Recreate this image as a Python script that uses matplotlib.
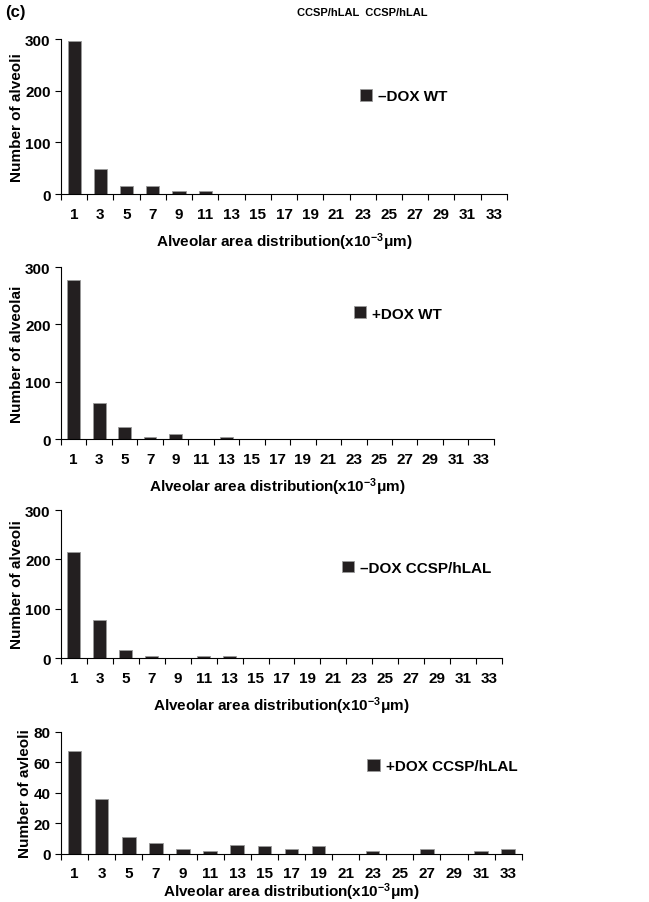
import matplotlib.pyplot as plt
import numpy as np

plt.rcParams['font.family'] = ['Liberation Sans', 'DejaVu Sans']
plt.rcParams['font.weight'] = 'bold'
plt.rcParams['axes.labelweight'] = 'bold'
plt.rcParams['mathtext.fontset'] = 'custom'
plt.rcParams['mathtext.rm'] = 'Liberation Sans:bold'
plt.rcParams['mathtext.bf'] = 'Liberation Sans:bold'
plt.rcParams['mathtext.default'] = 'bf'

# 横轴类别（面积区间）
bins = ['1', '3', '5', '7', '9', '11', '13', '15', '17', '19', '21', '23', '25', '27', '29', '31', '33']

# 四组数据
dox_minus_wt = [297, 49, 15, 15, 5, 5, 0, 0, 0, 0, 0, 0, 0, 0, 0, 0, 0]
dox_plus_wt = [278, 62, 21, 4, 9, 0, 4, 0, 0, 0, 0, 0, 0, 0, 0, 0, 0]
dox_minus_lal = [215, 77, 16, 5, 0, 5, 5, 0, 0, 0, 0, 0, 0, 0, 0, 0, 0]
dox_plus_lal = [67.5, 36, 11, 7, 3, 2, 6, 5, 3, 5, 0, 2, 0, 3, 0, 2, 3]

series = [dox_minus_wt, dox_plus_wt, dox_minus_lal, dox_plus_lal]
names = ['\u2013DOX WT', '+DOX WT', '\u2013DOX CCSP/hLAL', '+DOX CCSP/hLAL']
ylabels = ['Number of alveoli', 'Number of alveolai', 'Number of alveoli', 'Number of avleoli']
ymax = [300, 300, 300, 80]
yticks = [[0, 100, 200, 300], [0, 100, 200, 300], [0, 100, 200, 300], [0, 20, 40, 60, 80]]

# 各子图位置
rects = [[0.094, 0.784, 0.687, 0.1717],
         [0.094, 0.5127, 0.667, 0.1905],
         [0.094, 0.2702, 0.6795, 0.1639],
         [0.094, 0.0532, 0.710, 0.1351]]
leg_pos = [(0.64, 0.63), (0.645, 0.73), (0.605, 0.61), (0.635, 0.72)]
xlabel = 'Alveolar area distribution(x10$^{\u2212 3}$\u03bcm)'

fig = plt.figure(figsize=(6.49, 9.03), dpi=100)
x = np.arange(len(bins))

for i in range(4):
    ax = fig.add_axes(rects[i])
    bars = ax.bar(x, series[i], width=0.5, color='#231f20', edgecolor='#9a9a9a', linewidth=0.6)
    ax.set_xlim(-0.5, len(bins) - 0.5)
    ax.set_ylim(0, ymax[i])
    ax.set_yticks(yticks[i])
    ax.set_xticks(x)
    ax.set_xticklabels(bins, fontsize=11)
    ax.set_xticks(np.arange(len(bins) + 1) - 0.5, minor=True)
    ax.tick_params(axis='x', which='major', length=0, pad=9)
    ax.tick_params(axis='x', which='minor', length=4, width=0.8)
    ax.tick_params(axis='y', length=4, width=0.8, labelsize=11)
    for s in ['top', 'right']:
        ax.spines[s].set_visible(False)
    ax.spines['left'].set_linewidth(0.8)
    ax.spines['bottom'].set_linewidth(0.8)
    ax.set_ylabel(ylabels[i], fontsize=11, labelpad=1)
    ax.set_xlabel(xlabel, fontsize=11, labelpad=0 if i == 3 else 7)
    ax.legend([bars], [names[i]], loc='center left', bbox_to_anchor=leg_pos[i], frameon=False,
              handlelength=0.8, handleheight=0.8, handletextpad=0.4, prop={'size': 11, 'weight': 'bold'})

fig.text(0.008, 0.986, '(c)', fontsize=12, weight='bold', va='center')
fig.text(0.457, 0.986, 'CCSP/hLAL  CCSP/hLAL', fontsize=8, weight='bold', va='center')

plt.savefig('out.png', dpi=100)
